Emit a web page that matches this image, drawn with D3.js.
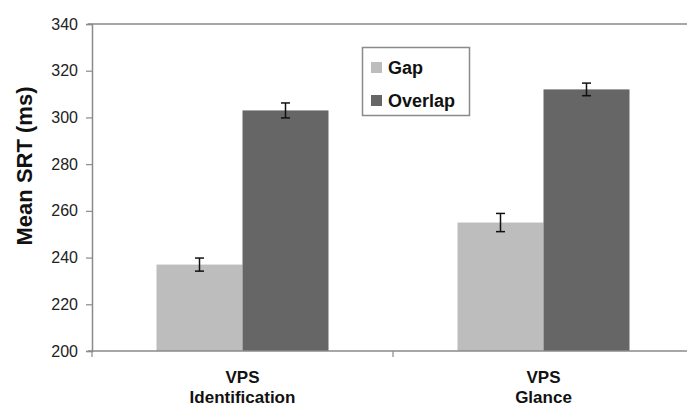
<!DOCTYPE html>
<html>
<head>
<meta charset="utf-8">
<script src="https://cdn.jsdelivr.net/npm/d3@7"></script>
<style>
  html, body { margin: 0; padding: 0; background: #fff; }
  svg { display: block; font-family: "Liberation Sans", Arial, sans-serif; }
</style>
</head>
<body>
<svg id="chart" width="687" height="407"></svg>
<script>
const categories = [["VPS", "Identification"], ["VPS", "Glance"]];
const seriesNames = ["Gap", "Overlap"];
const gapValues = [237, 255];
const overlapValues = [303, 312];
const gapErrors = [2.8, 3.9];
const overlapErrors = [3.2, 2.7];
const yTicks = [200, 220, 240, 260, 280, 300, 320, 340];
const seriesColors = ["#bdbdbd", "#666666"];

const svg = d3.select("#chart");
const plotLeft = 92, plotRight = 694, plotTop = 24, plotBottom = 351;

const x0 = d3.scaleBand().domain(d3.range(categories.length)).range([plotLeft, plotRight]).padding(0);
const x1 = d3.scaleBand().domain(seriesNames).range([0, x0.bandwidth()]).paddingInner(0).paddingOuter(0.75);
const y = d3.scaleLinear().domain([200, 340]).range([plotBottom, plotTop]);

const axisColor = "#8a8a8a";

// top frame line
svg.append("line").attr("x1", plotLeft - 4).attr("x2", plotRight).attr("y1", y(340)).attr("y2", y(340))
  .attr("stroke", axisColor).attr("stroke-width", 1.5);

// bars
const data = categories.map((c, i) => [
  { s: "Gap", v: gapValues[i], e: gapErrors[i] },
  { s: "Overlap", v: overlapValues[i], e: overlapErrors[i] }
]);

const groups = svg.append("g").selectAll("g").data(data).join("g")
  .attr("transform", (d, i) => `translate(${x0(i)},0)`);

groups.selectAll("rect").data(d => d).join("rect")
  .attr("x", d => x1(d.s))
  .attr("width", x1.bandwidth())
  .attr("y", d => y(d.v))
  .attr("height", d => y(200) - y(d.v))
  .attr("fill", d => seriesColors[seriesNames.indexOf(d.s)]);

// error bars
const eb = groups.selectAll("g.err").data(d => d).join("g").attr("class", "err");
eb.append("line")
  .attr("x1", d => x1(d.s) + x1.bandwidth() / 2).attr("x2", d => x1(d.s) + x1.bandwidth() / 2)
  .attr("y1", d => y(d.v + d.e)).attr("y2", d => y(d.v - d.e))
  .attr("stroke", "#111").attr("stroke-width", 1.5);
[1, -1].forEach(sgn => {
  eb.append("line")
    .attr("x1", d => x1(d.s) + x1.bandwidth() / 2 - 4.5).attr("x2", d => x1(d.s) + x1.bandwidth() / 2 + 4.5)
    .attr("y1", d => y(d.v + sgn * d.e)).attr("y2", d => y(d.v + sgn * d.e))
    .attr("stroke", "#111").attr("stroke-width", 1.5);
});

// y axis
const yAxis = svg.append("g").attr("transform", `translate(${plotLeft},0)`)
  .call(d3.axisLeft(y).tickValues(yTicks).tickSize(6).tickPadding(8).tickFormat(d3.format("d")));
yAxis.select(".domain").attr("stroke", axisColor).attr("stroke-width", 1.5);
yAxis.selectAll(".tick line").attr("stroke", axisColor).attr("stroke-width", 1.2);
yAxis.selectAll(".tick text").attr("font-size", 16).attr("fill", "#222")
  .attr("font-family", "'Liberation Sans', Arial, sans-serif");

// x axis
const xAxisG = svg.append("g").attr("transform", `translate(0,${plotBottom})`);
xAxisG.append("line").attr("x1", plotLeft - 4).attr("x2", plotRight).attr("y1", 0).attr("y2", 0)
  .attr("stroke", axisColor).attr("stroke-width", 1.5);
const bounds = [plotLeft].concat(categories.map((c, i) => x0(i) + x0.bandwidth()));
xAxisG.selectAll("line.tk").data(bounds).join("line").attr("class", "tk")
  .attr("x1", d => d).attr("x2", d => d).attr("y1", 0).attr("y2", 6)
  .attr("stroke", axisColor).attr("stroke-width", 1.2);

// x labels
const xl = svg.append("g").selectAll("text").data(categories).join("text")
  .attr("text-anchor", "middle")
  .attr("font-size", 17).attr("font-weight", "bold").attr("fill", "#111")
  .attr("x", (d, i) => x0(i) + x0.bandwidth() / 2)
  .attr("y", 383);
xl.append("tspan").attr("x", (d, i) => x0(i) + x0.bandwidth() / 2).text(d => d[0]);
xl.append("tspan").attr("x", (d, i) => x0(i) + x0.bandwidth() / 2).attr("dy", 20).text(d => d[1]);

// y title
svg.append("text").attr("transform", "translate(32,166) rotate(-90)")
  .attr("text-anchor", "middle").attr("font-size", 22).attr("font-weight", "bold").attr("fill", "#111")
  .text("Mean SRT (ms)");

// legend
const lg = svg.append("g");
lg.append("rect").attr("x", 362.5).attr("y", 47.5).attr("width", 107).attr("height", 68)
  .attr("fill", "#fff").attr("stroke", axisColor).attr("stroke-width", 1.5);
seriesNames.forEach((s, i) => {
  lg.append("rect").attr("x", 371).attr("y", 62 + i * 33).attr("width", 11).attr("height", 11)
    .attr("fill", seriesColors[i]);
  lg.append("text").attr("x", 388).attr("y", 74 + i * 33)
    .attr("font-size", 18).attr("font-weight", "bold").attr("fill", "#111").text(s);
});
</script>
</body>
</html>
